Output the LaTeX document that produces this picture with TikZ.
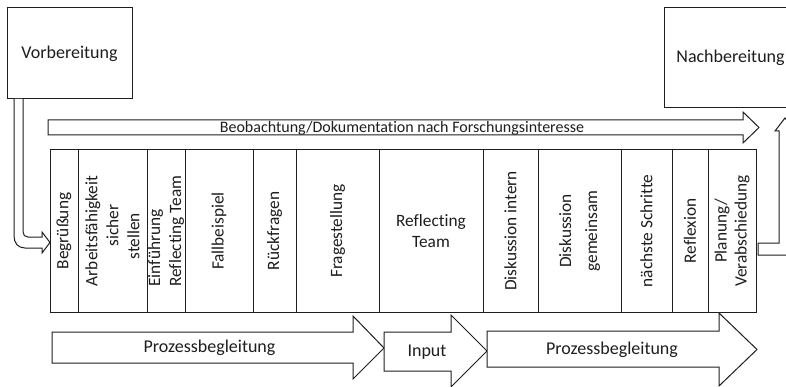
\documentclass[tikz,border=0pt]{standalone}
\usepackage{fontspec}
\setmainfont{Carlito}[Ligatures={NoCommon}]
\definecolor{ink}{HTML}{1E1E1E}
\begin{document}
\begin{tikzpicture}[x=1pt,y=-1pt,line width=1pt,
  every node/.style={text=ink},
  frame/.style={draw=ink,fill=white,inner sep=0pt,outer sep=0pt},
  phasebox/.style={frame,font=\fontsize{18}{21}\selectfont},
  stagecol/.style={frame,rotate=90,minimum width=162pt,align=center,
    font=\fontsize{17.3}{21}\selectfont},
  outline/.style={draw=ink,fill=white,line join=miter},
  arrowlabel/.style={font=\fontsize{18}{21}\selectfont,inner sep=0pt},
  toplabel/.style={font=\fontsize{16}{19}\selectfont,inner sep=0pt}]
\useasboundingbox (0,0) rectangle (786,387);
\clip (0,0) rectangle (786,387);

% preparation / follow-up boxes
\node[phasebox,minimum width=125pt,minimum height=91pt] (vor) at (69.5,53.5) {Vorbereitung};
\node[phasebox,minimum width=133pt,minimum height=100pt] (nach) at (730.5,58) {Nachbereitung};

% bent arrow from the preparation box into the session
\draw[outline] (14,99) -- (14,236) .. controls (14,243) and (18,248) .. (25,248)
  -- (42,248) -- (42,253) -- (50,242.5) -- (42,232) -- (42,237) -- (28,237)
  .. controls (25,237) and (23,235) .. (23,232) -- (23,99);

% observation arrow along the top
\draw[outline] (48,120) -- (743,120) -- (743,112) -- (759,127.5) -- (743,143)
  -- (743,135) -- (48,135) -- cycle;
\node[toplabel] (obs) at (402,128) {Beobachtung/Dokumentation nach Forschungsinteresse};

% session stages
\node[stagecol,minimum height=28pt] (s1) at (64,231) {Begrüßung};
\node[stagecol,minimum height=69pt] (s2) at (112.5,231)
  {Arbeitsfähigkeit\\\hspace*{0.6em}sicher\\stellen\hspace*{0.6em}};
\node[stagecol,minimum height=38pt,align=left] (s3) at (166,231)
  {Einführung\\Reflecting Team};
\node[stagecol,minimum height=68pt] (s4) at (219,231) {Fallbeispiel};
\node[stagecol,minimum height=43pt] (s5) at (274.5,231) {Rückfragen};
\node[stagecol,minimum height=83pt] (s6) at (337.5,231) {Fragestellung};
\node[frame,minimum width=104pt,minimum height=162pt,align=center,
  font=\fontsize{17.3}{21}\selectfont] (s7) at (431,231) {Reflecting\\Team};
\node[stagecol,minimum height=55pt] (s8) at (510.5,231) {Diskussion intern};
\node[stagecol,minimum height=83pt,font=\fontsize{17.3}{26}\selectfont] (s9) at (579.5,231)
  {Diskussion\\gemeinsam};
\node[stagecol,minimum height=51pt] (s10) at (646.5,231) {nächste Schritte};
\node[stagecol,minimum height=36pt] (s11) at (690,231) {Reflexion};
\node[stagecol,minimum height=48pt,font=\fontsize{17.3}{20}\selectfont] (s12) at (732,231)
  {Planung/\\Verabschiedung};

% bent arrow from the session up to the follow-up box
\draw[outline] (758,243) -- (779,243) -- (779,131) -- (775,131) -- (785,118)
  -- (795,131) -- (791,131) -- (791,255) -- (758,255) -- cycle;

% process arrows along the bottom
\draw[outline] (52,332) -- (353,332) -- (353,316) -- (384,348) -- (353,379)
  -- (353,363) -- (52,363) -- cycle;
\node[arrowlabel] (pb1) at (209.5,348) {Prozessbegleitung};

\draw[outline] (384,332) -- (451,332) -- (451,315) -- (487,351) -- (451,387)
  -- (451,371) -- (384,371) -- cycle;
\node[arrowlabel] (inp) at (427,352) {Input};

\draw[outline] (487,331) -- (719,331) -- (719,313) -- (757,349.5) -- (719,386)
  -- (719,367) -- (487,367) -- cycle;
\node[arrowlabel] (pb2) at (612,350) {Prozessbegleitung};
\end{tikzpicture}
\end{document}
